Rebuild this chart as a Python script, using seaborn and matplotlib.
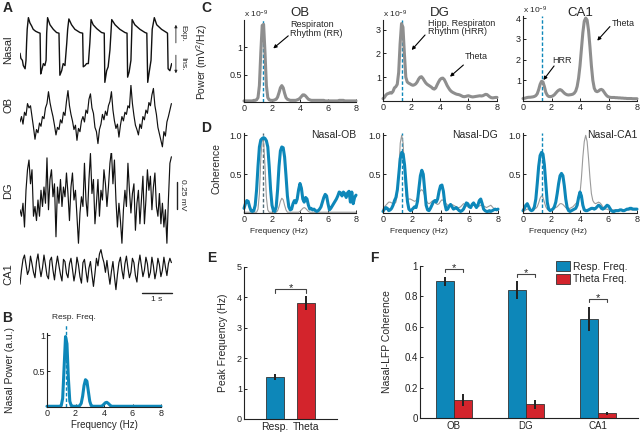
import numpy as np
import pandas as pd
import matplotlib
matplotlib.use('Agg')
import matplotlib.pyplot as plt
import matplotlib.transforms as mtransforms
import seaborn as sns

BLUE = '#0d87b9'
RED = '#d3242c'
GRAY = '#8e8e8e'
DARK = '#222222'

# ---------------- A: raw traces ----------------
nasal_t = [0.00, 0.03, 0.08, 0.11, 0.17, 0.20, 0.22, 0.24, 0.28, 0.33, 0.39, 0.44, 0.52, 0.61, 0.67,
           0.69, 0.72, 0.78, 0.83, 0.87, 0.89, 0.92, 1.00, 1.11, 1.22, 1.30,
           1.33, 1.39, 1.44, 1.50, 1.56, 1.59, 1.63, 1.72, 1.83, 2.00, 2.09,
           2.11, 2.17, 2.22, 2.28, 2.33, 2.37, 2.44, 2.56, 2.72, 2.81,
           2.83, 2.89, 2.94, 3.00, 3.06, 3.17, 3.33, 3.50, 3.57,
           3.59, 3.64, 3.70, 3.74, 3.83, 4.00, 4.17, 4.23,
           4.26, 4.31, 4.37, 4.41, 4.48, 4.56, 4.72, 4.89, 4.92,
           4.94, 5.00, 5.06]
nasal_v = [0.45, 0.37, 0.34, 0.26, 0.21, 0.34, 0.61, 0.82, 1.00, 0.92, 0.87, 0.82, 0.79, 0.77, 0.76,
           0.13, 0.18, 0.29, 0.26, 0.34, 0.76, 1.00, 0.89, 0.82, 0.77, 0.76,
           0.11, 0.18, 0.29, 0.26, 0.61, 0.82, 0.98, 0.89, 0.82, 0.77, 0.76,
           0.24, 0.26, 0.29, 0.29, 0.61, 0.97, 0.89, 0.83, 0.77, 0.76,
           0.00, 0.18, 0.24, 0.50, 0.97, 0.89, 0.82, 0.77, 0.76,
           0.08, 0.16, 0.34, 0.97, 0.89, 0.82, 0.77, 0.76,
           0.00, 0.16, 0.34, 0.82, 1.00, 0.89, 0.82, 0.77, 0.76,
           0.21, 0.18, 0.29]

lfp_t = np.round(np.arange(102) * 0.05, 2)  # sample times (s)

ob_mv = [-0.03, 0.02, -0.05, 0.06, 0.03, 0.14, 0.10, 0.12, 0.02, -0.08,
         -0.19, -0.10, -0.13, -0.04, -0.07, 0.02, 0.00, 0.10, 0.14, 0.25,
         0.15, 0.08, 0.02, -0.06, -0.15, -0.08, -0.10, -0.01, -0.04, 0.06,
         0.03, 0.16, 0.26, 0.12, 0.04, -0.02, -0.10, -0.06, -0.20, -0.09,
         -0.12, -0.02, 0.02, -0.03, 0.08, 0.05, 0.18, 0.23, 0.10, 0.05,
         -0.08, -0.12, -0.23, -0.10, -0.05, 0.04, -0.01, 0.07, 0.03, 0.12,
         0.16, 0.25, 0.08, -0.02, -0.09, -0.05, -0.17, -0.06, 0.02, -0.02,
         0.06, 0.04, 0.12, 0.10, 0.31, 0.14, 0.03, -0.06, -0.10, -0.15,
         -0.05, -0.09, 0.02, -0.01, 0.08, 0.05, 0.15, 0.12, 0.22, 0.28,
         0.12, 0.04, -0.08, -0.14, -0.20, -0.26, -0.12, -0.16, -0.03, 0.02,
         0.08, 0.14]
dg_mv = [-0.09, -0.15, -0.03, -0.25, 0.09, 0.28, 0.37, 0.15, 0.28, -0.15,
         -0.06, -0.19, 0.00, -0.15, 0.09, -0.06, 0.12, -0.03, 0.39, -0.09,
         0.19, 0.28, 0.03, 0.15, -0.34, 0.12, -0.03, 0.19, -0.06, 0.12,
         0.03, 0.25, 0.06, -0.19, 0.12, 0.25, 0.00, 0.09, -0.15, -0.40,
         -0.12, 0.03, -0.06, 0.34, 0.00, -0.15, 0.19, 0.43, 0.06, 0.19,
         -0.22, -0.03, 0.19, -0.15, 0.09, 0.00, 0.28, 0.15, -0.06, 0.12,
         0.34, 0.46, 0.15, 0.37, 0.00, -0.25, -0.03, -0.19, -0.40, -0.09,
         0.09, -0.06, 0.34, 0.09, -0.12, 0.06, 0.15, -0.28, -0.03, 0.09,
         -0.22, 0.00, 0.22, -0.22, 0.00, 0.28, 0.09, 0.22, -0.09, 0.12,
         0.25, -0.06, -0.15, 0.06, -0.22, -0.03, -0.25, -0.09, -0.40, 0.00,
         0.34, 0.40]
ca1_mv = [-0.15, -0.02, 0.08, 0.12, 0.03, -0.06, -0.02, 0.11, 0.04, -0.04,
          -0.09, 0.06, 0.13, 0.01, -0.08, 0.00, 0.12, 0.03, -0.07, -0.10,
          0.07, 0.10, -0.02, -0.11, 0.02, 0.11, 0.02, -0.06, -0.12, 0.08,
          0.06, -0.05, -0.09, 0.04, 0.09, -0.01, -0.12, -0.04, 0.10, 0.03,
          -0.08, -0.14, 0.05, 0.08, -0.03, -0.13, 0.00, 0.06, -0.06, -0.17,
          -0.05, 0.09, 0.02, 0.13, 0.17, 0.10, 0.05, -0.04, 0.07, -0.05,
          -0.15, -0.03, 0.06, -0.08, -0.20, -0.06, 0.05, 0.10, -0.02, -0.10,
          0.04, 0.11, 0.00, -0.09, -0.04, 0.09, 0.05, -0.07, -0.13, 0.03,
          0.12, 0.02, -0.08, -0.02, 0.10, 0.04, -0.09, -0.04, 0.10, 0.02,
          -0.10, -0.03, 0.09, 0.03, -0.08, -0.02, 0.10, 0.01, -0.07, 0.04,
          0.09, 0.05]

# ---------------- B-D: spectra (0-8 Hz, 0.1 Hz steps) ----------------
freqs = np.round(np.arange(81) * 0.1, 1)
RESP_PEAK = 1.35

nasal_power = [0.01, 0.01, 0.01, 0.01, 0.01, 0.01, 0.01, 0.01, 0.01, 0.01,
               0.02, 0.12, 0.55, 0.98, 0.88, 0.40, 0.08, 0.02, 0.01, 0.01,
               0.01, 0.01, 0.01, 0.02, 0.05, 0.15, 0.30, 0.38, 0.36, 0.22,
               0.08, 0.02, 0.01, 0.01, 0.01, 0.01, 0.01, 0.01, 0.01, 0.02,
               0.04, 0.06, 0.065, 0.05, 0.03, 0.01, 0.01, 0.01, 0.01, 0.01,
               0.01, 0.01, 0.01, 0.01, 0.01, 0.01, 0.01, 0.01, 0.01, 0.01,
               0.01, 0.01, 0.01, 0.01, 0.01, 0.01, 0.01, 0.01, 0.01, 0.01,
               0.01, 0.01, 0.01, 0.01, 0.01, 0.01, 0.01, 0.01, 0.01, 0.01,
               0.01]

pow_ob = [0.02, 0.02, 0.02, 0.02, 0.02, 0.02, 0.02, 0.03, 0.03, 0.04,
          0.08, 0.30, 0.90, 1.40, 1.42, 0.90, 0.30, 0.08, 0.04, 0.03,
          0.03, 0.03, 0.04, 0.05, 0.09, 0.17, 0.26, 0.30, 0.26, 0.16,
          0.08, 0.05, 0.04, 0.03, 0.03, 0.03, 0.03, 0.03, 0.04, 0.05,
          0.07, 0.10, 0.13, 0.13, 0.11, 0.08, 0.05, 0.04, 0.03, 0.03,
          0.03, 0.03, 0.03, 0.03, 0.03, 0.03, 0.03, 0.03, 0.02, 0.02,
          0.02, 0.02, 0.02, 0.02, 0.02, 0.02, 0.02, 0.02, 0.03, 0.03,
          0.03, 0.03, 0.02, 0.02, 0.02, 0.02, 0.02, 0.02, 0.02, 0.02,
          0.02]
pow_dg = [0.10, 0.15, 0.25, 0.30, 0.32, 0.35, 0.33, 0.40, 0.55, 0.60,
          0.70, 1.20, 2.40, 3.25, 3.10, 2.00, 1.00, 0.80, 0.75, 0.72,
          0.68, 0.66, 0.68, 0.72, 0.80, 0.92, 1.00, 1.02, 0.95, 0.85,
          0.76, 0.70, 0.66, 0.62, 0.58, 0.52, 0.50, 0.55, 0.68, 0.80,
          0.90, 0.95, 0.96, 0.90, 0.78, 0.65, 0.55, 0.46, 0.40, 0.36,
          0.33, 0.30, 0.28, 0.27, 0.25, 0.22, 0.19, 0.18, 0.19, 0.21,
          0.22, 0.20, 0.18, 0.17, 0.18, 0.19, 0.20, 0.21, 0.22, 0.21,
          0.22, 0.25, 0.28, 0.27, 0.22, 0.17, 0.14, 0.13, 0.14, 0.15,
          0.15]
pow_ca1 = [0.12, 0.13, 0.15, 0.17, 0.18, 0.18, 0.19, 0.20, 0.22, 0.26,
           0.35, 0.55, 0.80, 0.95, 0.92, 0.70, 0.42, 0.28, 0.22, 0.21,
           0.22, 0.25, 0.30, 0.38, 0.46, 0.52, 0.55, 0.52, 0.45, 0.38,
           0.33, 0.30, 0.29, 0.30, 0.31, 0.33, 0.38, 0.48, 0.70, 1.10,
           1.70, 2.50, 3.30, 3.85, 4.00, 3.90, 3.40, 2.60, 1.70, 1.00,
           0.62, 0.48, 0.45, 0.48, 0.54, 0.56, 0.52, 0.42, 0.32, 0.24,
           0.20, 0.18, 0.17, 0.17, 0.17, 0.16, 0.16, 0.15, 0.15, 0.14,
           0.14, 0.13, 0.13, 0.12, 0.12, 0.12, 0.12, 0.11, 0.11, 0.11,
           0.11]

coh_ob = [0.06, 0.12, 0.16, 0.15, 0.08, 0.03, 0.02, 0.03, 0.10, 0.30,
          0.60, 0.85, 0.94, 0.96, 0.97, 0.96, 0.93, 0.85, 0.60, 0.30,
          0.10, 0.03, 0.02, 0.08, 0.30, 0.60, 0.80, 0.85, 0.84, 0.72,
          0.48, 0.22, 0.08, 0.04, 0.05, 0.12, 0.16, 0.13, 0.18, 0.30,
          0.38, 0.32, 0.18, 0.14, 0.20, 0.18, 0.10, 0.05, 0.06, 0.04,
          0.05, 0.03, 0.02, 0.03, 0.05, 0.08, 0.14, 0.20, 0.24, 0.22,
          0.12, 0.04, 0.06, 0.09, 0.12, 0.15, 0.18, 0.22, 0.27, 0.26,
          0.22, 0.27, 0.25, 0.20, 0.26, 0.28, 0.14, 0.27, 0.12, 0.20,
          0.23]
ref_ob = [0.01, 0.01, 0.01, 0.01, 0.01, 0.01, 0.01, 0.01, 0.01, 0.01,
          0.05, 0.25, 0.70, 0.95, 0.92, 0.60, 0.20, 0.04, 0.01, 0.01,
          0.01, 0.01, 0.01, 0.01, 0.03, 0.08, 0.15, 0.19, 0.17, 0.10,
          0.04, 0.01, 0.01, 0.01, 0.01, 0.01, 0.01, 0.01, 0.01, 0.01,
          0.02, 0.04, 0.06, 0.07, 0.06, 0.04, 0.02, 0.01, 0.01, 0.01,
          0.01, 0.01, 0.01, 0.01, 0.01, 0.01, 0.01, 0.01, 0.01, 0.01,
          0.01, 0.01, 0.01, 0.01, 0.01, 0.01, 0.01, 0.01, 0.01, 0.01,
          0.01, 0.01, 0.01, 0.01, 0.01, 0.01, 0.01, 0.01, 0.01, 0.01,
          0.01]
coh_dg = [0.02, 0.05, 0.07, 0.06, 0.03, 0.04, 0.06, 0.10, 0.16, 0.20,
          0.30, 0.50, 0.70, 0.78, 0.76, 0.62, 0.38, 0.15, 0.05, 0.03,
          0.04, 0.06, 0.08, 0.07, 0.15, 0.32, 0.48, 0.55, 0.50, 0.30,
          0.10, 0.04, 0.03, 0.06, 0.10, 0.14, 0.16, 0.14, 0.18, 0.28,
          0.35, 0.36, 0.28, 0.12, 0.04, 0.05, 0.09, 0.11, 0.08, 0.05,
          0.06, 0.07, 0.05, 0.03, 0.02, 0.03, 0.05, 0.09, 0.13, 0.12,
          0.08, 0.07, 0.11, 0.13, 0.10, 0.07, 0.10, 0.16, 0.18, 0.12,
          0.05, 0.03, 0.02, 0.02, 0.03, 0.02, 0.03, 0.04, 0.05, 0.04,
          0.05]
ref_dg = [0.05, 0.08, 0.10, 0.12, 0.14, 0.14, 0.13, 0.12, 0.12, 0.14,
          0.25, 0.55, 0.90, 1.00, 0.90, 0.50, 0.22, 0.17, 0.18, 0.18,
          0.17, 0.16, 0.15, 0.16, 0.20, 0.25, 0.29, 0.30, 0.28, 0.22,
          0.16, 0.13, 0.12, 0.13, 0.15, 0.16, 0.14, 0.12, 0.11, 0.12,
          0.15, 0.17, 0.16, 0.14, 0.12, 0.10, 0.09, 0.10, 0.11, 0.10,
          0.09, 0.08, 0.07, 0.07, 0.08, 0.10, 0.12, 0.11, 0.09, 0.08,
          0.08, 0.09, 0.10, 0.10, 0.09, 0.08, 0.08, 0.09, 0.10, 0.10,
          0.09, 0.08, 0.07, 0.08, 0.09, 0.10, 0.08, 0.06, 0.05, 0.04,
          0.04]
coh_ca1 = [0.03, 0.06, 0.10, 0.12, 0.08, 0.04, 0.03, 0.04, 0.08, 0.18,
           0.38, 0.60, 0.74, 0.78, 0.76, 0.62, 0.38, 0.14, 0.05, 0.03,
           0.04, 0.05, 0.08, 0.14, 0.25, 0.38, 0.48, 0.51, 0.48, 0.35,
           0.18, 0.07, 0.03, 0.02, 0.03, 0.04, 0.05, 0.06, 0.10, 0.20,
           0.27, 0.22, 0.10, 0.04, 0.03, 0.03, 0.04, 0.05, 0.06, 0.06,
           0.05, 0.06, 0.08, 0.10, 0.09, 0.06, 0.05, 0.06, 0.08, 0.10,
           0.09, 0.06, 0.03, 0.02, 0.02, 0.03, 0.03, 0.03, 0.04, 0.04,
           0.03, 0.03, 0.04, 0.05, 0.05, 0.06, 0.06, 0.05, 0.05, 0.05,
           0.05]
ref_ca1 = [0.02, 0.03, 0.04, 0.05, 0.05, 0.04, 0.04, 0.04, 0.05, 0.06,
           0.08, 0.13, 0.19, 0.22, 0.20, 0.14, 0.08, 0.05, 0.04, 0.04,
           0.04, 0.05, 0.06, 0.07, 0.08, 0.10, 0.12, 0.12, 0.11, 0.09,
           0.07, 0.06, 0.06, 0.06, 0.07, 0.08, 0.10, 0.12, 0.14, 0.17,
           0.25, 0.45, 0.72, 0.92, 1.00, 0.92, 0.70, 0.45, 0.25, 0.16,
           0.13, 0.12, 0.13, 0.14, 0.13, 0.11, 0.08, 0.06, 0.05, 0.05,
           0.04, 0.04, 0.04, 0.04, 0.04, 0.04, 0.04, 0.04, 0.04, 0.04,
           0.04, 0.04, 0.04, 0.04, 0.04, 0.04, 0.04, 0.04, 0.04, 0.04,
           0.04]

# ---------------- E, F: bars ----------------
peak_labels = ['Resp.', 'Theta']
peak_freq = [1.38, 3.80]
peak_sem = [0.11, 0.23]

regions = ['OB', 'DG', 'CA1']
bands = ['Resp. Freq.', 'Theta Freq.']
resp_coh = [0.90, 0.84, 0.65]
resp_sem = [0.03, 0.06, 0.08]
theta_coh = [0.12, 0.09, 0.03]
theta_sem = [0.04, 0.03, 0.01]

# ---------------- style ----------------
sns.set_theme(style='ticks')
plt.rcParams['font.family'] = ['Liberation Sans', 'DejaVu Sans']
plt.rcParams.update({
    'mathtext.fontset': 'custom', 'mathtext.rm': 'Liberation Sans',
    'mathtext.it': 'Liberation Sans:italic', 'mathtext.bf': 'Liberation Sans:bold',
    'axes.linewidth': 0.8, 'axes.edgecolor': DARK,
    'xtick.direction': 'in', 'ytick.direction': 'in',
    'xtick.major.size': 2.5, 'ytick.major.size': 2.5,
    'xtick.major.width': 0.7, 'ytick.major.width': 0.7,
    'xtick.major.pad': 1.5, 'ytick.major.pad': 1.5,
    'xtick.labelsize': 6.5, 'ytick.labelsize': 6.5,
    'xtick.color': DARK, 'ytick.color': DARK,
    'axes.labelsize': 7.5, 'axes.labelpad': 1,
})

W, H = 640, 432
fig = plt.figure(figsize=(6.4, 4.32), dpi=100)


def px_axes(left, top, right, bottom):
    return fig.add_axes([left / W, 1 - bottom / H, (right - left) / W, (bottom - top) / H])


def fig_text(x, y, s, **kw):
    fig.text(x / W, 1 - y / H, s, **kw)


for letter, x, y in [('A', 3, 1), ('B', 2, 311), ('C', 201, 1), ('D', 201, 121),
                     ('E', 207, 251), ('F', 370, 251)]:
    fig_text(x, y, letter, fontsize=10, fontweight='bold', ha='left', va='top')

# ---- A ----
traces = [('Nasal', nasal_t, nasal_v, (20, 17, 172, 83), (-0.01, 1.01), 50, 1.0),
          ('OB', lfp_t, ob_mv, (20, 85, 172, 152), (-0.308, 0.312), 105, 0.85),
          ('DG', lfp_t, dg_mv, (20, 153, 172, 248), (-0.444, 0.435), 191, 0.85),
          ('CA1', lfp_t, ca1_mv, (20, 245, 172, 292), (-0.222, 0.213), 274, 0.85)]
trace_axes = {}
for name, t, v, rect, ylim, label_y, lw in traces:
    ax = px_axes(*rect)
    sns.lineplot(x=t, y=v, ax=ax, color='#111111', lw=lw, estimator=None, sort=False)
    ax.set_xlim(0, 5.07)
    ax.set_ylim(*ylim)
    ax.axis('off')
    fig_text(8, label_y, name, rotation=90, ha='center', va='center', fontsize=8)
    trace_axes[name] = ax

ax = trace_axes['Nasal']
arrow_kw = dict(arrowstyle='-|>', color=DARK, lw=0.6, mutation_scale=4, shrinkA=0, shrinkB=0)
ax.annotate('', xy=(5.2, 0.89), xytext=(5.2, 0.61), arrowprops=arrow_kw, annotation_clip=False)
ax.annotate('', xy=(5.2, 0.14), xytext=(5.2, 0.42), arrowprops=arrow_kw, annotation_clip=False)
ax.text(5.42, 0.75, 'Exp.', rotation=270, ha='center', va='center', fontsize=6)
ax.text(5.42, 0.29, 'Ins.', rotation=270, ha='center', va='center', fontsize=6)

ax = trace_axes['DG']
ax.plot([5.23, 5.23], [-0.08, 0.17], color=DARK, lw=1, clip_on=False)
ax.text(5.42, 0.045, '0.25 mV', rotation=270, ha='center', va='center', fontsize=6)

ax = trace_axes['CA1']
tr = mtransforms.blended_transform_factory(ax.transData, ax.transAxes)
ax.plot([4.07, 5.07], [-0.02, -0.02], color=DARK, lw=1, transform=tr, clip_on=False)
ax.text(4.57, -0.17, '1 s', transform=tr, ha='center', va='center', fontsize=6)


def spec_style(ax, ylim, yticks, yticklabels):
    ax.set_xlim(0, 8)
    ax.set_ylim(*ylim)
    ax.set_xticks([0, 2, 4, 6, 8])
    ax.set_yticks(yticks)
    ax.set_yticklabels(yticklabels)
    sns.despine(ax=ax)


def draw_line(ax, x, y, color, lw):
    sns.lineplot(x=x, y=y, ax=ax, color=color, lw=lw, estimator=None, sort=False)
    ax.lines[-1].set_clip_on(False)


# ---- B ----
ax = px_axes(47, 333, 161, 407)
draw_line(ax, freqs, nasal_power, BLUE, 2.2)
spec_style(ax, (0, 1.03), [0.5, 1], ['0.5', '1'])
ax.plot([RESP_PEAK, RESP_PEAK], [0, 1.16], color=BLUE, lw=1, dashes=(2.5, 1.5), clip_on=False)
ax.text(1.9, 1.25, 'Resp. Freq.', ha='center', va='center', fontsize=6)
ax.set_xlabel('Frequency (Hz)', fontsize=7)
ax.set_ylabel('Nasal Power (a.u.)')
ax.xaxis.set_label_coords(0.5, -0.17)
ax.yaxis.set_label_coords(-0.28, 0.5)

# ---- C ----
c_specs = [('OB', pow_ob, (244, 20, 356, 102), (0, 1.5), [0.5, 1], ['0.5', '1']),
           ('DG', pow_dg, (383, 20, 497, 101), (0, 3.4), [1, 2, 3], ['1', '2', '3']),
           ('CA1', pow_ca1, (523, 16, 637, 101), (0, 4.1), [1, 2, 3, 4], ['1', '2', '3', '4'])]
c_axes = {}
for name, vals, rect, ylim, yt, ytl in c_specs:
    ax = px_axes(*rect)
    ax.axvline(RESP_PEAK, color=BLUE, lw=1, dashes=(2.5, 1.5))
    draw_line(ax, freqs, vals, GRAY, 2.2)
    spec_style(ax, ylim, yt, ytl)
    ax.text(0, 1.0, r'x 10$^{-9}$', transform=ax.transAxes, ha='left', va='bottom', fontsize=6)
    fig_text((rect[0] + rect[2]) / 2, 13, name, ha='center', va='center', fontsize=9.5)
    c_axes[name] = ax
c_axes['OB'].set_ylabel('Power (mV$^2$/Hz)')
c_axes['OB'].yaxis.set_label_coords(-0.30, 0.49)

ann_kw = dict(arrowstyle='-|>', color='black', lw=0.8, mutation_scale=5, shrinkA=0, shrinkB=0)
c_notes = [('OB', 'Respiraton\nRhythm (RR)', (3.29, 1.34), (3.16, 1.21), (2.09, 0.98)),
           ('DG', 'Hipp. Respiraton\nRhythm (HRR)', (3.18, 3.09), (2.95, 2.77), (2.01, 2.14)),
           ('DG', 'Theta', (5.75, 1.86), (5.64, 1.51), (4.70, 1.02)),
           ('CA1', 'Theta', (6.22, 3.75), (6.10, 3.59), (5.21, 2.91)),
           ('CA1', 'HRR', (2.08, 1.94), (2.18, 1.69), (1.43, 1.01))]
for name, txt, txt_xy, tail, head in c_notes:
    ax = c_axes[name]
    ax.annotate('', xy=head, xytext=tail, arrowprops=ann_kw, annotation_clip=False)
    ax.text(*txt_xy, txt, ha='left', va='center', fontsize=6.5, linespacing=0.95)

# ---- D ----
d_specs = [('Nasal-OB', coh_ob, ref_ob, (244, 133, 356, 213)),
           ('Nasal-DG', coh_dg, ref_dg, (383, 133, 498, 213)),
           ('Nasal-CA1', coh_ca1, ref_ca1, (523, 133, 637, 213))]
for i, (name, coh, ref, rect) in enumerate(d_specs):
    ax = px_axes(*rect)
    ax.axvline(RESP_PEAK, color=BLUE if i else '#4f6b78', lw=1, dashes=(2.5, 1.5))
    draw_line(ax, freqs, ref, '#9a9a9a', 0.8)
    draw_line(ax, freqs, coh, BLUE, 2.2)
    spec_style(ax, (0, 1.03), [0.5, 1.0], ['0.5', '1.0'])
    ax.text(1.0, 0.98, name, transform=ax.transAxes, ha='right', va='center', fontsize=7.5)
    ax.set_xlabel('Frequency (Hz)', fontsize=6)
    ax.xaxis.set_label_coords(0.31, -0.19)
    if i == 0:
        ax.set_ylabel('Coherence')
        ax.yaxis.set_label_coords(-0.2, 0.56)

# ---- E ----
ax = px_axes(244, 267, 337, 419)
sns.barplot(x=peak_labels, y=peak_freq, hue=peak_labels, palette=[BLUE, RED], legend=False,
            saturation=1, width=0.58, edgecolor='#333333', linewidth=0.6, errorbar=None, ax=ax)
centers = []
for bar, err in zip(ax.patches, peak_sem):
    xc = bar.get_x() + bar.get_width() / 2
    centers.append(xc)
    ax.errorbar(xc, bar.get_height(), yerr=err, fmt='none', ecolor='#222222', elinewidth=1.4, capsize=0)
top = max(v + e for v, e in zip(peak_freq, peak_sem)) + 0.25
ax.plot([centers[0], centers[0], centers[1], centers[1]], [top - 0.12, top, top, top - 0.12],
        color='#444444', lw=0.8)
ax.annotate('*', xy=((centers[0] + centers[1]) / 2, top), xytext=(0, -1.5), textcoords='offset points',
            ha='center', va='baseline', fontsize=8)
ax.set_xlim(-1, 2)
ax.set_ylim(0, 5)
ax.set_yticks([0, 1, 2, 3, 4, 5])
ax.tick_params(axis='x', length=0, labelsize=7.5, pad=2)
ax.set_ylabel('Peak Frequency (Hz)')
ax.set_xlabel('')
ax.yaxis.set_label_coords(-0.17, 0.5)
sns.despine(ax=ax)

# ---- F ----
ax = px_axes(420, 266, 638, 418)
coh_df = pd.DataFrame({'region': regions * 2,
                       'band': [bands[0]] * 3 + [bands[1]] * 3,
                       'coh': resp_coh + theta_coh})
sns.barplot(data=coh_df, x='region', y='coh', hue='band', palette=[BLUE, RED], saturation=1,
            width=0.5, edgecolor='#333333', linewidth=0.6, errorbar=None, ax=ax)
for cont, vals, errs in zip(ax.containers, [resp_coh, theta_coh], [resp_sem, theta_sem]):
    for bar, v, e in zip(cont, vals, errs):
        ax.errorbar(bar.get_x() + bar.get_width() / 2, v, yerr=e, fmt='none',
                    ecolor='#222222', elinewidth=1.4, capsize=0)
for i in range(3):
    b1, b2 = ax.containers[0][i], ax.containers[1][i]
    x1 = b1.get_x() + b1.get_width() / 2
    x2 = b2.get_x() + b2.get_width() / 2
    y = resp_coh[i] + resp_sem[i] + 0.05
    ax.plot([x1, x1, x2, x2], [y - 0.02, y, y, y - 0.02], color='#444444', lw=0.8)
    ax.annotate('*', xy=((x1 + x2) / 2, y), xytext=(0, -1.5), textcoords='offset points',
                ha='center', va='baseline', fontsize=8)
ax.set_xlim(-0.47, 2.56)
ax.set_ylim(0, 1)
ax.set_yticks([0, 0.2, 0.4, 0.6, 0.8, 1])
ax.set_yticklabels(['0', '0.2', '0.4', '0.6', '0.8', '1'])
ax.tick_params(axis='x', length=0, labelsize=7, pad=2)
ax.tick_params(axis='y', labelsize=7)
ax.set_xlabel('')
ax.set_ylabel('Nasal-LFP Coherence')
ax.yaxis.set_label_coords(-0.13, 0.5)
handles, labels = ax.get_legend_handles_labels()
ax.legend(handles, labels, loc='upper right', bbox_to_anchor=(0.97, 1.06), frameon=False,
          fontsize=7.5, handlelength=1.3, handleheight=1.1, handletextpad=0.3,
          labelspacing=0.2, borderaxespad=0)
sns.despine(ax=ax)

fig.savefig('out.png', dpi=100)
